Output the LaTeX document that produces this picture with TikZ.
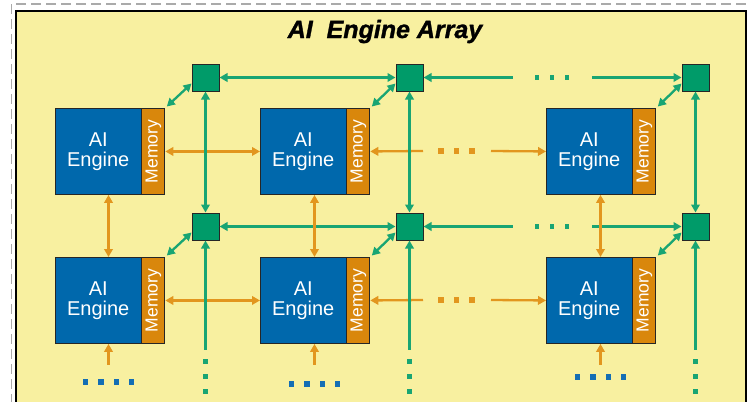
\documentclass[tikz,border=0pt]{standalone}
\usepackage{fontspec}
\setmainfont{Liberation Sans}
\newfontfamily\titlefont[FakeBold=1.2]{Liberation Sans Bold Italic}
\usetikzlibrary{arrows.meta,calc}

\definecolor{panelfill}{RGB}{248,240,160}
\definecolor{engblue}{RGB}{0,104,172}
\definecolor{memorange}{RGB}{217,135,12}
\definecolor{swgreen}{RGB}{0,155,105}
\definecolor{linkgreen}{RGB}{25,165,115}
\definecolor{linkorange}{RGB}{226,150,30}
\definecolor{dotblue}{RGB}{20,110,180}
\definecolor{frame}{RGB}{170,170,170}

\tikzset{
  engine/.style={rectangle, draw=black!85, line width=0.9pt, fill=engblue,
    minimum width=85.5pt, minimum height=86pt, inner sep=0pt, text=white,
    align=center, font=\fontsize{20}{20}\selectfont},
  memstrip/.style={rectangle, draw=black!85, line width=0.9pt, fill=memorange,
    minimum width=23pt, minimum height=86pt, inner sep=0pt, text=white,
    font=\fontsize{17.5}{17.5}\selectfont},
  switchbox/.style={rectangle, draw=black!85, line width=1pt, fill=swgreen,
    minimum size=27pt, inner sep=0pt},
  glink/.style={draw=linkgreen, line width=2.3pt,
    arrows={-}, >={Triangle[length=8pt,width=8.5pt]}},
  olink/.style={draw=linkorange, line width=2.3pt,
    arrows={-}, >={Triangle[length=8pt,width=8.5pt]}},
  gdot/.style={fill=linkgreen},
  odot/.style={fill=linkorange},
  bdot/.style={fill=dotblue},
}

\begin{document}
\begin{tikzpicture}[x=1pt,y=-1pt]
\useasboundingbox (0,0) rectangle (748,402);

% outer dashed frame and the yellow panel
\begin{scope}
  \clip (0,0) rectangle (748,402);
  \draw[frame, line width=1.6pt, dash pattern=on 10pt off 5pt] (11.5,4) rectangle (770,430);
  \draw[fill=panelfill, line width=2pt] (16,11) rectangle (746,430);
\end{scope}

% title
\node[anchor=base] (title) at (385,38)
  {\fontsize{25}{25}\selectfont\titlefont AI\ \ Engine Array};

% tiles: engine, memory and switch of each column/row
\foreach \c/\ex/\sx/\ox in {1/55/205.5/108.5, 2/260/409.5/314.5, 3/546/695.5/600.5}{
  \coordinate (oc\c) at (\ox,0);
  \coordinate (sc\c) at (\sx,0);
  \foreach \r/\ey/\sy in {1/108/77.5, 2/257/226.5}{
    \node[engine, anchor=north west] (e\r\c) at (\ex,\ey) {AI\\Engine};
    \node[memstrip, anchor=north west] (m\r\c) at (e\r\c.north east) {\rotatebox{90}{Memory}};
    \node[switchbox] (s\r\c) at (\sx,\sy) {};
  }
}

% horizontal links (drawn first, verticals cross over them)
\foreach \r/\ey in {1/151, 2/300}{
  % memory-to-memory (orange)
  \draw[olink,<->] (m\r1.east) -- (e\r2.west);
  \coordinate (ol\r) at (423,\ey);
  \coordinate (or\r) at (491,\ey);
  \draw[olink,<-] (m\r2.east) -- (ol\r);
  \foreach \x in {441,456.5,472}{\fill[odot] (\x-2.6,\ey-2.6) rectangle (\x+2.6,\ey+2.6);}
  \draw[olink,->] (or\r) -- (e\r3.west);
}
\foreach \r/\sy in {1/77.5, 2/226.5}{
  % switch-to-switch (green)
  \draw[glink,<->] (s\r1) -- (s\r2);
  \coordinate (gl\r) at (513,\sy);
  \coordinate (gr\r) at (592,\sy);
  \draw[glink,<-] (s\r2) -- (gl\r);
  \foreach \x in {537,552,567}{\fill[gdot] (\x-2.4,\sy-2.4) rectangle (\x+2.4,\sy+2.4);}
  \draw[glink,->] (gr\r) -- (s\r3);
}

% vertical links and the open ends below the array
\foreach \c/\by in {1/382, 2/384, 3/377}{
  % memory-to-memory (orange)
  \draw[olink,<->] (oc\c |- e1\c.south) -- (oc\c |- e2\c.north);
  \coordinate (ob\c) at ($(oc\c |- e2\c.south)+(0,21)$);
  \draw[olink,->] (ob\c) -- (oc\c |- e2\c.south);
  % stream switch column (green)
  \draw[glink,<->] (s1\c) -- (s2\c);
  \coordinate (gb\c) at ($(sc\c |- s2\c.south)+(0,109)$);
  \draw[glink,->] (gb\c) -- (s2\c);
  \foreach \d in {12,27,42}{\fill[gdot] ($(gb\c)+(-2.4,\d-2.4)$) rectangle ($(gb\c)+(2.4,\d+2.4)$);}
  % cascade continuation dots (blue)
  \foreach \d in {-23,-7.7,7.7,23}{\fill[bdot] ($(oc\c)+(\d-2.7,\by-2.7)$) rectangle ($(oc\c)+(\d+2.7,\by+2.7)$);}
}

% engine-to-switch diagonal links
\foreach \r in {1,2}{
  \foreach \c in {1,2,3}{
    \draw[glink,<->] ($(m\r\c.north east)+(1.5,-1.5)$) -- ($(s\r\c.south west)+(0,-8)$);
  }
}
\end{tikzpicture}
\end{document}
